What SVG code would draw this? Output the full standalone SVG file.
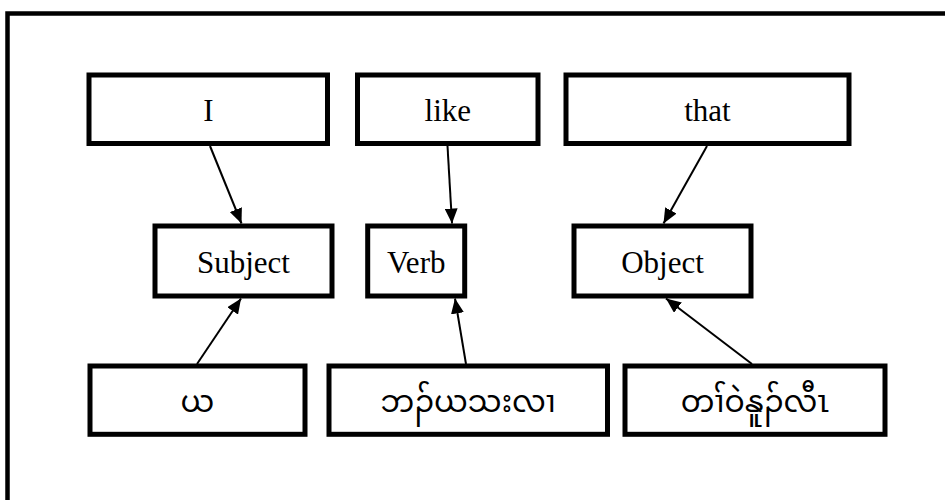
<svg xmlns="http://www.w3.org/2000/svg" width="945" height="500" viewBox="0 0 945 500">
<style>
.frame{fill:none;stroke:#000;stroke-width:4.5}
.box{fill:#fff;stroke:#000;stroke-width:5}
.en{font-family:"Liberation Serif","Times New Roman",serif;font-size:31px;fill:#000;text-anchor:middle}
.kr{font-family:"Noto Sans Myanmar","Padauk","Myanmar Text","Noto Sans",sans-serif;font-size:30px;fill:#000;text-anchor:middle}
.edge{fill:none;stroke:#000;stroke-width:2}
</style>
<defs>
<marker id="ah" markerUnits="userSpaceOnUse" viewBox="0 0 15 13" markerWidth="15" markerHeight="13" refX="15" refY="6.5" orient="auto">
<path d="M0,0 L15,6.5 L0,13 z" fill="#000"/>
</marker>
</defs>
<rect class="frame" x="7.5" y="13.5" width="1000" height="1000"/>
<g id="edges">
<line class="edge" x1="210" y1="146" x2="241.5" y2="223.5" marker-end="url(#ah)"/>
<line class="edge" x1="447.5" y1="146" x2="452" y2="223.5" marker-end="url(#ah)"/>
<line class="edge" x1="707" y1="146" x2="663.5" y2="223.5" marker-end="url(#ah)"/>
<line class="edge" x1="197" y1="364" x2="241" y2="298.5" marker-end="url(#ah)"/>
<line class="edge" x1="466" y1="364" x2="455" y2="298.5" marker-end="url(#ah)"/>
<line class="edge" x1="752" y1="364" x2="666" y2="298.5" marker-end="url(#ah)"/>
</g>
<g id="n-i"><rect class="box" x="89" y="75" width="238.5" height="68.5"/><text class="en" x="208.3" y="121">I</text></g>
<g id="n-like"><rect class="box" x="357.5" y="75" width="180.5" height="68.5"/><text class="en" x="447.8" y="121">like</text></g>
<g id="n-that"><rect class="box" x="566" y="75" width="283" height="68.5"/><text class="en" x="707.5" y="121">that</text></g>
<g id="n-subject"><rect class="box" x="155" y="226" width="177" height="70"/><text class="en" x="243.5" y="273">Subject</text></g>
<g id="n-verb"><rect class="box" x="367.7" y="226" width="97" height="70"/><text class="en" x="416.2" y="273">Verb</text></g>
<g id="n-object"><rect class="box" x="574" y="226" width="177" height="70"/><text class="en" x="662.5" y="273">Object</text></g>
<g id="n-k1"><rect class="box" x="90" y="366" width="215" height="68.3"/><text class="kr" x="197.5" y="412">ယ</text></g>
<g id="n-k2"><rect class="box" x="329" y="366" width="278.5" height="68.3"/><text class="kr" x="468.2" y="412">ဘၣ်ယသးလၢ</text></g>
<g id="n-k3"><rect class="box" x="625" y="366" width="260" height="68.3"/><text class="kr" x="755" y="412">တၢ်ဝဲနူၣ်လီၤ</text></g>
</svg>
